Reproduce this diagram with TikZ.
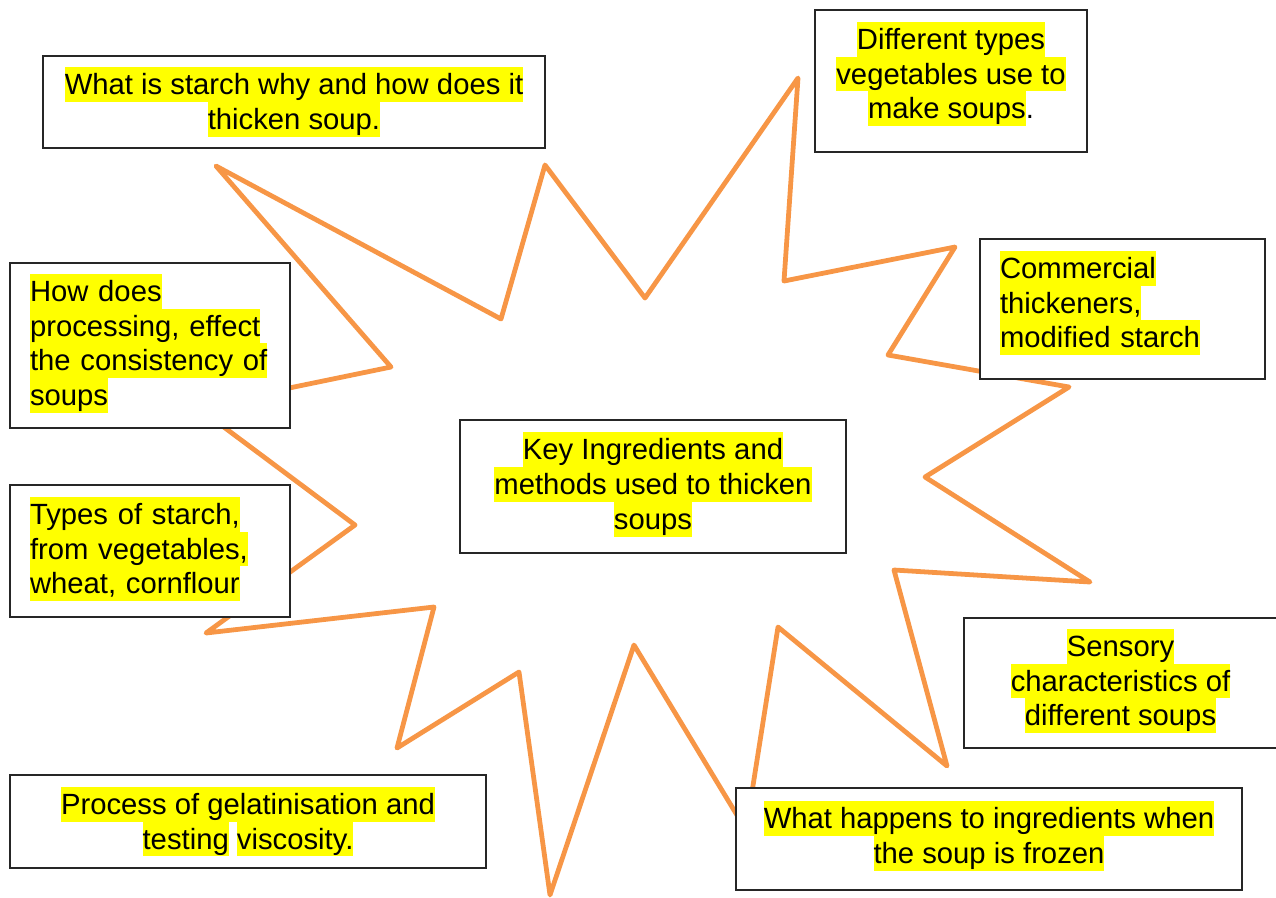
\documentclass[tikz,border=0pt]{standalone}
\usepackage{fontspec}
\setmainfont{Liberation Sans}
\usetikzlibrary{positioning}

\definecolor{sternorange}{RGB}{247,150,70}
\definecolor{markgelb}{RGB}{255,255,0}
\newcommand{\px}{0.3966pt}
\newcommand{\markiert}[1]{{\setlength{\fboxsep}{0pt}\colorbox{markgelb}{\rule[-2.9pt]{0pt}{13.8pt}#1}}}
\newcommand{\tiefe}[1]{\rule[-#1]{0pt}{0pt}}

\begin{document}
\begin{tikzpicture}[x=0.3966pt, y=-0.3966pt,
    stern/.style={draw=sternorange, line width=1.9pt, line join=round},
    kasten/.style={draw=black!85, line width=0.5pt, fill=white, inner sep=0pt,
        font=\fontsize{11.6}{13.8}\selectfont, align=center},
    linkskasten/.style={kasten, align=left, text width=240*\px}]

    \useasboundingbox (0,0) rectangle (1276,897);

    % --- Stern ---
    \draw[stern] (216,166) -- (501,319) -- (545,165) -- (645,298) -- (798,78)
        -- (784,281) -- (955,247) -- (888,355) -- (1069,387) -- (925,477)
        -- (1090,582) -- (894,570) -- (947,766) -- (778,627) -- (746,830)
        -- (634,645) -- (550,895) -- (519,672) -- (397,748) -- (434,607)
        -- (206,633) -- (355,525) -- (197,407) -- (391,367) -- cycle;

    % --- Mitte ---
    \node[kasten, minimum width=386*\px, minimum height=133*\px] (mitte) at (653,486.5)
        {\markiert{Key Ingredients and}\\\markiert{methods used to thicken}\\\markiert{soups}\tiefe{4.5pt}};

    % --- Kaesten oben ---
    \node[kasten, minimum width=502*\px, minimum height=92*\px] (staerke) at (294,102)
        {\markiert{What is starch why and how does it}\\\markiert{thicken soup.}};
    \node[kasten, minimum width=272*\px, minimum height=142*\px] (gemuese) at (951,81)
        {\markiert{Different types}\\\markiert{vegetables use to}\\\markiert{make soups}.\tiefe{8.5pt}};

    % --- Kaesten links ---
    \node[linkskasten, minimum width=280*\px, minimum height=165*\px] (verarbeitung) at (150,345.5)
        {\markiert{How does}\\\markiert{processing, effect}\\\markiert{the consistency of}\\\markiert{soups}\tiefe{4.5pt}};
    \node[linkskasten, minimum width=280*\px, minimum height=132*\px] (sorten) at (150,551)
        {\markiert{Types of starch,}\\\markiert{from vegetables,}\\\markiert{wheat, cornflour}\tiefe{4.5pt}};

    % --- Kaesten rechts ---
    \node[linkskasten, text width=245*\px, minimum width=285*\px, minimum height=140*\px] (handel) at (1122.5,309)
        {\markiert{Commercial}\\\markiert{thickeners,}\\\markiert{modified starch}\tiefe{7.7pt}};
    \node[kasten, minimum width=313*\px, minimum height=130*\px] (sensorik) at (1120.5,683)
        {\markiert{Sensory}\\\markiert{characteristics of}\\\markiert{different soups}\tiefe{4.5pt}};

    % --- Kaesten unten ---
    \node[kasten, minimum width=506*\px, minimum height=102*\px] (gefroren) at (989,839)
        {\markiert{What happens to ingredients when}\\\markiert{the soup is frozen}\tiefe{5.3pt}};
    \node[kasten, minimum width=476*\px, minimum height=93*\px] (gelatine) at (248,821.5)
        {\markiert{Process of gelatinisation and}\\\markiert{testing} \markiert{viscosity.}};

\end{tikzpicture}
\end{document}
